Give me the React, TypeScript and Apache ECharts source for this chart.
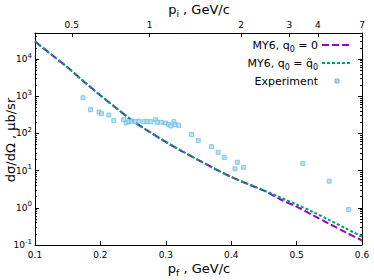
import React, { useEffect, useRef } from 'react';
import * as echarts from 'echarts';

// p_f grid (GeV/c) for the two MY6 curves
const pfGrid = [0.1, 0.125, 0.15, 0.175, 0.2, 0.225, 0.25, 0.275, 0.3, 0.325, 0.35, 0.375, 0.4, 0.425, 0.45, 0.475, 0.5, 0.525, 0.55, 0.575, 0.6];
// dσ/dΩ, μb/sr
const my6Zero = [29500, 13200, 5890, 2450, 1050, 468, 214, 110, 58.9, 33.1, 19.1, 11.2, 6.76, 4.37, 2.88, 1.70, 1.07, 0.631, 0.372, 0.219, 0.132];
const my6Tilde = [29500, 13200, 5890, 2450, 1050, 468, 214, 110, 58.9, 33.1, 19.1, 11.2, 6.76, 4.40, 2.95, 1.91, 1.23, 0.776, 0.468, 0.282, 0.166];

// experiment
const expPf = [0.1735, 0.1848, 0.198, 0.2017, 0.2129, 0.2205, 0.2354, 0.2394, 0.2435, 0.2476, 0.2531, 0.2588, 0.2665, 0.2715, 0.2772, 0.2844, 0.2868, 0.293, 0.2997, 0.3043, 0.3078, 0.3124, 0.3144, 0.3196, 0.3395, 0.3496, 0.37, 0.38, 0.3894, 0.4058, 0.4094, 0.4191, 0.5095, 0.5498, 0.5793];
const expVal = [912, 435, 375, 340, 311, 220, 234, 190, 207, 215, 207, 215, 207, 207, 207, 234, 199, 199, 190, 175, 158, 207, 172, 165, 93, 64, 44, 31, 22.4, 11.1, 16.8, 12.3, 15.5, 5.2, 0.9];

// bottom axis ticks
const bottomTicks = [0.1, 0.2, 0.3, 0.4, 0.5, 0.6];
// top axis (p_i) tick positions on the p_f scale and their labels
const topTickPf = [0.1562, 0.2751, 0.4151, 0.4891, 0.5325, 0.6];
const topTickLabels = ['0.5', '1', '2', '3', '4', '7'];
// y decades (exponents)
const yDecades = [-1, 0, 1, 2, 3, 4];
const yMinorMult = [2, 3, 4, 5, 6, 7, 8, 9];
const yMin = 0.1;
const yMax = 50000;

const FONT = 'DejaVu Sans';
const PURPLE = '#9400D3';
const GREEN = '#009E73';
const BLUE = '#56B4E9';
const MARK_FILL = '#a9daf5';

export default function App() {
  const ref = useRef<HTMLDivElement>(null);
  useEffect(() => {
    if (!ref.current) return;
    const chart = echarts.init(ref.current, undefined, { renderer: 'svg' });
    const logMin = Math.log10(yMin);
    const logMax = Math.log10(yMax);
    const minorVals: number[] = [];
    yDecades.forEach((d) => {
      yMinorMult.forEach((m) => {
        const v = d + Math.log10(m);
        if (v > logMin && v < logMax) minorVals.push(v);
      });
    });

    const baseAux = {
      type: 'value',
      min: logMin,
      max: logMax,
      splitLine: { show: false },
    };
    const richTick = {
      b: { fontSize: 9, fontFamily: FONT, color: '#000', lineHeight: 14 },
      p: { fontSize: 7, fontFamily: FONT, color: '#000', lineHeight: 7, verticalAlign: 'top' },
    };
    const richLeg = {
      n: { fontSize: 11, fontFamily: FONT, color: '#000', lineHeight: 16 },
      s: { fontSize: 8, fontFamily: FONT, color: '#000', lineHeight: 9, verticalAlign: 'bottom' },
    };
    const richTitle = {
      n: { fontSize: 13, fontFamily: FONT, color: '#000', lineHeight: 18 },
      s: { fontSize: 9, fontFamily: FONT, color: '#000', lineHeight: 10, verticalAlign: 'bottom' },
    };

    const option: any = {
      animation: false,
      backgroundColor: '#fff',
      grid: { left: 35, top: 33, width: 327, height: 212, containLabel: false },
      xAxis: [
        {
          type: 'value',
          position: 'bottom',
          min: 0.1,
          max: 0.6,
          interval: 0.1,
          axisLine: { onZero: false, lineStyle: { color: '#000', width: 1 } },
          axisTick: { inside: true, length: 4, lineStyle: { color: '#000' }, customValues: bottomTicks },
          axisLabel: {
            customValues: bottomTicks,
            margin: 5,
            fontSize: 9,
            fontFamily: FONT,
            color: '#000',
            formatter: (v: number) => v.toFixed(1),
          },
          splitLine: { show: false },
        },
        {
          type: 'value',
          position: 'top',
          min: 0.1,
          max: 0.6,
          axisLine: { onZero: false, lineStyle: { color: '#000', width: 1 } },
          axisTick: { inside: true, length: 4, lineStyle: { color: '#000' }, customValues: topTickPf },
          axisLabel: {
            customValues: topTickPf,
            margin: 4,
            fontSize: 9,
            fontFamily: FONT,
            color: '#000',
            formatter: (v: number) => {
              let best = 0;
              topTickPf.forEach((t, i) => {
                if (Math.abs(t - v) < Math.abs(topTickPf[best] - v)) best = i;
              });
              return topTickLabels[best];
            },
          },
          splitLine: { show: false },
        },
      ],
      yAxis: [
        {
          type: 'log',
          logBase: 10,
          min: yMin,
          max: yMax,
          show: false,
          axisLine: { onZero: false },
          splitLine: { show: false },
        },
        {
          ...baseAux,
          position: 'left',
          axisLine: { show: true, onZero: false, lineStyle: { color: '#000', width: 1 } },
          axisTick: { inside: true, length: 4, lineStyle: { color: '#000' }, customValues: yDecades },
          axisLabel: {
            customValues: yDecades,
            margin: 3,
            rich: richTick,
            formatter: (v: number) => `{b|10}{p|${Math.round(v)}}`,
          },
        },
        {
          ...baseAux,
          position: 'left',
          axisLine: { show: false, onZero: false },
          axisTick: { inside: true, length: 2, lineStyle: { color: '#000' }, customValues: minorVals },
          axisLabel: { show: false },
        },
        {
          ...baseAux,
          position: 'right',
          axisLine: { show: true, onZero: false, lineStyle: { color: '#000', width: 1 } },
          axisTick: { inside: true, length: 4, lineStyle: { color: '#000' }, customValues: yDecades },
          axisLabel: { show: false },
        },
        {
          ...baseAux,
          position: 'right',
          axisLine: { show: false, onZero: false },
          axisTick: { inside: true, length: 2, lineStyle: { color: '#000' }, customValues: minorVals },
          axisLabel: { show: false },
        },
      ],
      series: [
        {
          name: 'MY6, q0 = 0',
          type: 'line',
          xAxisIndex: 0,
          yAxisIndex: 0,
          data: pfGrid.map((x, i) => [x, my6Zero[i]]),
          showSymbol: false,
          symbol: 'none',
          smooth: 0.3,
          lineStyle: { color: PURPLE, width: 2, type: [7, 3] },
          z: 2,
        },
        {
          name: 'MY6, q0 = q0~',
          type: 'line',
          xAxisIndex: 0,
          yAxisIndex: 0,
          data: pfGrid.map((x, i) => [x, my6Tilde[i]]),
          showSymbol: false,
          symbol: 'none',
          smooth: 0.3,
          lineStyle: { color: GREEN, width: 2, type: [3, 2] },
          z: 3,
        },
        {
          name: 'Experiment',
          type: 'scatter',
          xAxisIndex: 0,
          yAxisIndex: 0,
          data: expPf.map((x, i) => [x, expVal[i]]),
          symbol: 'rect',
          symbolSize: 4,
          itemStyle: { color: MARK_FILL, borderColor: BLUE, borderWidth: 0.8 },
          z: 4,
        },
      ],
      graphic: [
        {
          type: 'text',
          x: 199,
          y: 9,
          style: { text: '{n|p}{s|i}{n| , GeV/c}', rich: richTitle, align: 'center', verticalAlign: 'middle' },
        },
        {
          type: 'text',
          x: 199,
          y: 268,
          style: { text: '{n|p}{s|f}{n| , GeV/c}', rich: richTitle, align: 'center', verticalAlign: 'middle' },
        },
        {
          type: 'text',
          x: 10,
          y: 140,
          rotation: Math.PI / 2,
          style: { text: '{n|dσ/dΩ , μb/sr}', rich: richTitle, align: 'center', verticalAlign: 'middle' },
        },
        {
          type: 'text',
          x: 318,
          y: 45,
          style: { text: '{n|MY6, q}{s|0}{n| = 0}', rich: richLeg, align: 'right', verticalAlign: 'middle' },
        },
        {
          type: 'line',
          shape: { x1: 322, y1: 45, x2: 350, y2: 45 },
          style: { stroke: PURPLE, lineWidth: 2, lineDash: [7, 3] },
        },
        {
          type: 'text',
          x: 318,
          y: 63,
          style: { text: '{n|MY6, q}{s|0}{n| = q\u0303}{s|0}', rich: richLeg, align: 'right', verticalAlign: 'middle' },
        },
        {
          type: 'line',
          shape: { x1: 322, y1: 63, x2: 350, y2: 63 },
          style: { stroke: GREEN, lineWidth: 2, lineDash: [3, 2] },
        },
        {
          type: 'text',
          x: 318,
          y: 81,
          style: { text: '{n|Experiment}', rich: richLeg, align: 'right', verticalAlign: 'middle' },
        },
        {
          type: 'rect',
          shape: { x: 335, y: 79, width: 4, height: 4 },
          style: { fill: MARK_FILL, stroke: BLUE, lineWidth: 0.8 },
        },
      ],
    };
    chart.setOption(option);
    return () => chart.dispose();
  }, []);
  return (
    <div
      ref={ref}
      style={{ position: 'fixed', left: 0, top: 0, width: 374, height: 280, background: '#fff' }}
    />
  );
}
